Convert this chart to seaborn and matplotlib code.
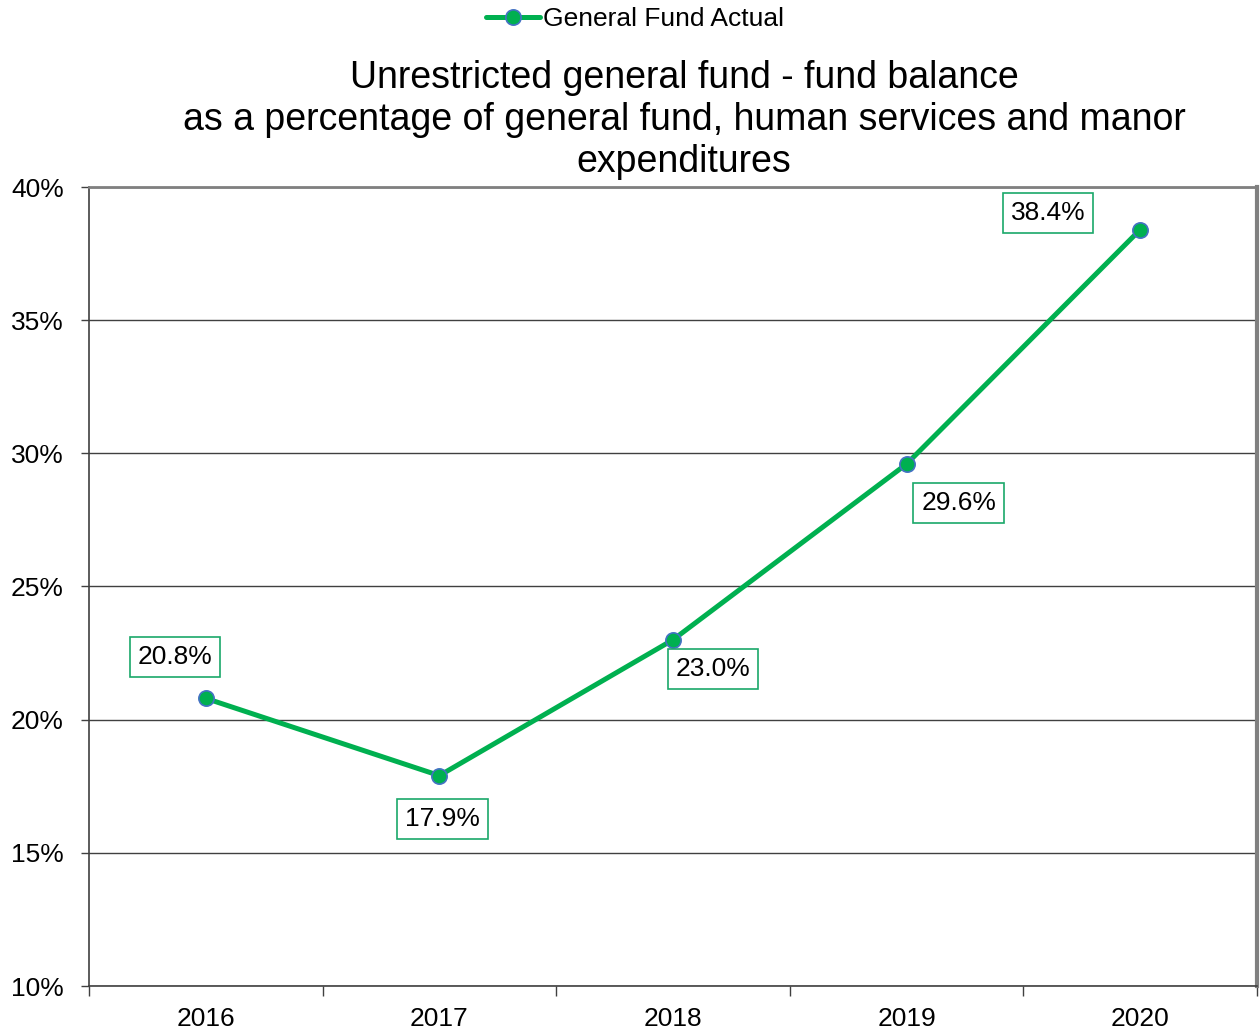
import matplotlib
matplotlib.use("Agg")
import matplotlib.pyplot as plt
import seaborn as sns
import pandas as pd
from matplotlib.ticker import FixedLocator, PercentFormatter

# Chart data
years = ["2016", "2017", "2018", "2019", "2020"]
fund_pct = [20.8, 17.9, 23.0, 29.6, 38.4]
# label offsets (pixels) relative to each point
label_dx = [-31, 3, 40, 52, -92]
label_dy = [41, -43, -29, -39, 17]

sns.set_theme(style="white")
plt.rcParams["font.family"] = ["Liberation Sans", "DejaVu Sans"]
plt.rcParams["text.color"] = "black"
plt.rcParams["xtick.color"] = "black"
plt.rcParams["ytick.color"] = "black"

df = pd.DataFrame({"pos": range(len(years)), "pct": fund_pct})

fig = plt.figure(figsize=(12.6, 10.32), dpi=100)
ax = fig.add_axes([89 / 1260, 1 - 986 / 1032, (1257 - 89) / 1260, (986 - 187) / 1032])

sns.lineplot(
    data=df,
    x="pos",
    y="pct",
    ax=ax,
    color="#00B050",
    linewidth=3.6,
    marker="o",
    markersize=11,
    markerfacecolor="#00B050",
    markeredgecolor="#4472C4",
    markeredgewidth=1.2,
    label="General Fund Actual",
    zorder=5,
)

for i, v in enumerate(fund_pct):
    ax.annotate(
        f"{v:.1f}%",
        xy=(i, v),
        xytext=(label_dx[i], label_dy[i]),
        textcoords="offset pixels",
        ha="center",
        va="center",
        fontsize=19,
        color="black",
        bbox=dict(boxstyle="square,pad=0.3", fc="white", ec="#1aa86a", lw=1.2),
        zorder=6,
    )

ax.set_xlim(-0.5, len(years) - 0.5)
ax.set_ylim(10, 40)
ax.set_yticks([10, 15, 20, 25, 30, 35, 40])
ax.yaxis.set_major_formatter(PercentFormatter(decimals=0))
ax.set_xticks(range(len(years)))
ax.set_xticklabels(years)
ax.xaxis.set_minor_locator(FixedLocator([i - 0.5 for i in range(len(years) + 1)]))
ax.tick_params(axis="x", which="major", length=0, pad=15, labelsize=19)
ax.tick_params(axis="x", which="minor", length=7, width=1, color="#404040", direction="out", bottom=True)
ax.tick_params(axis="y", which="major", length=6, width=1, color="#404040", direction="out",
               left=True, pad=12, labelsize=19)
ax.set_xlabel("")
ax.set_ylabel("")

ax.yaxis.grid(True, color="#404040", linewidth=1.0)
ax.set_axisbelow(True)

for side in ["left", "bottom"]:
    ax.spines[side].set_color("#404040")
    ax.spines[side].set_linewidth(1.2)
ax.spines["top"].set_color("#808080")
ax.spines["top"].set_linewidth(2)
ax.spines["right"].set_color("#808080")
ax.spines["right"].set_linewidth(3)

ax.get_legend().remove()
handles, labels = ax.get_legend_handles_labels()
fig.legend(
    handles,
    labels,
    loc="center",
    bbox_to_anchor=(635 / 1260, 1 - 19 / 1032),
    frameon=False,
    fontsize=19,
    handlelength=2.05,
    handletextpad=0.1,
)

fig.text(
    684 / 1260,
    1 - 120 / 1032,
    "Unrestricted general fund - fund balance\n"
    "as a percentage of general fund, human services and manor\n"
    "expenditures",
    ha="center",
    va="center",
    multialignment="center",
    fontsize=27,
    linespacing=1.2,
)

fig.savefig("out.png", dpi=100)
